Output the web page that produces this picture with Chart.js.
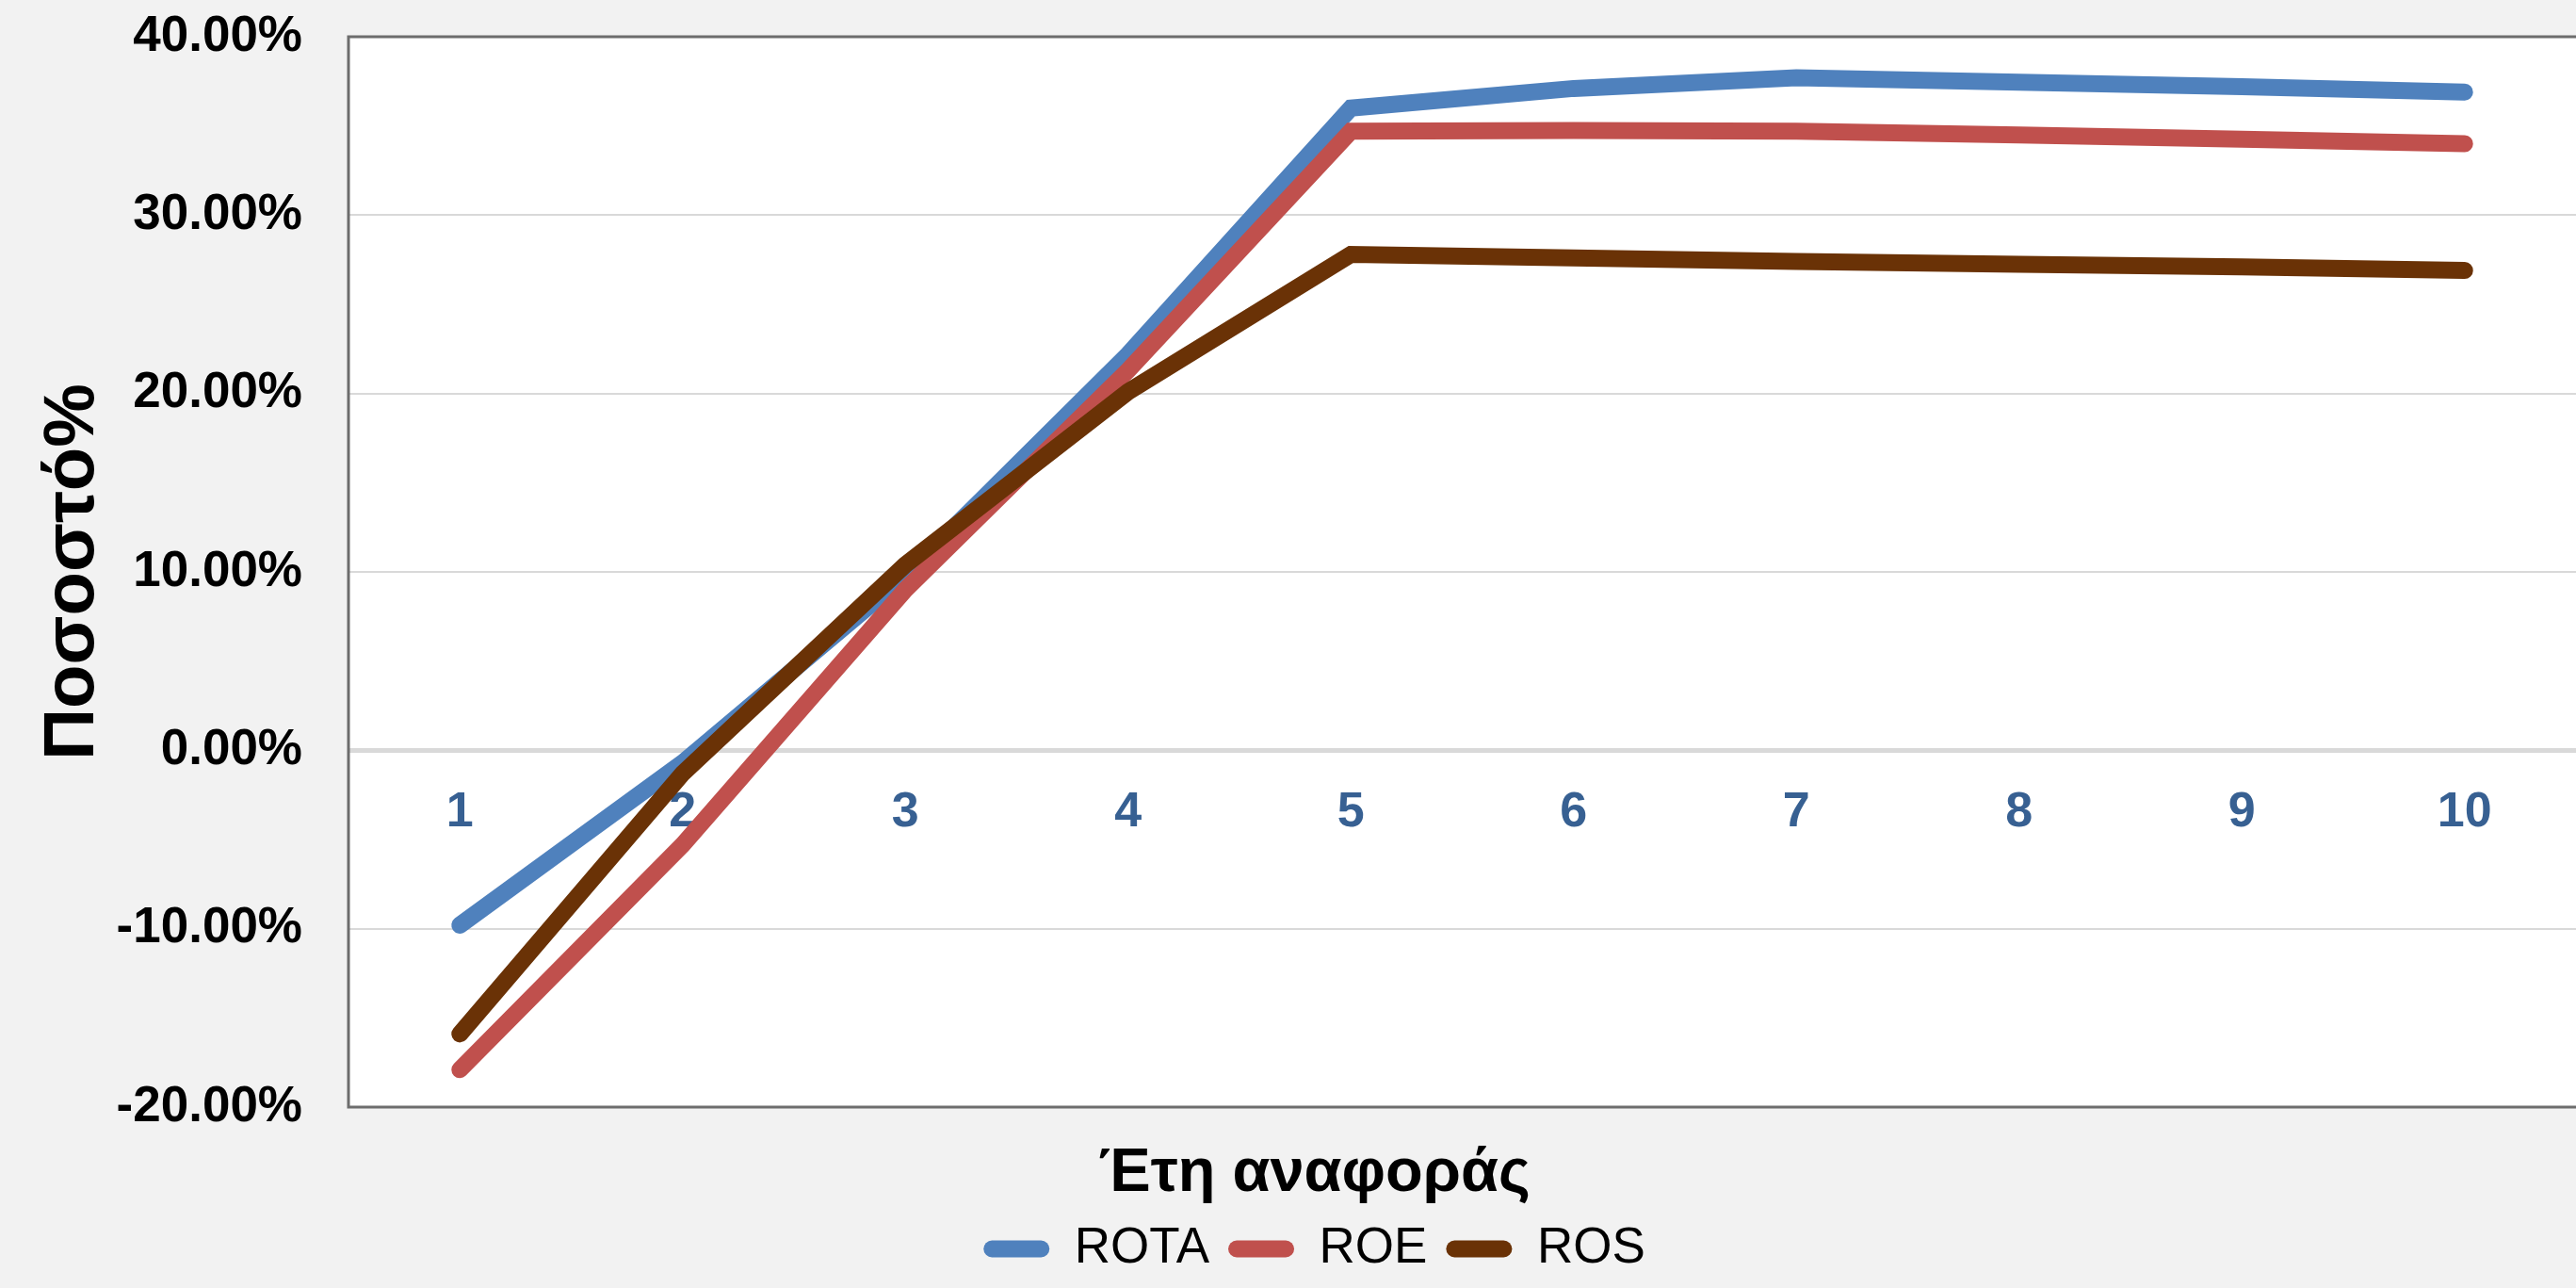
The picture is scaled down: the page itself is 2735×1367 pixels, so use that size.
<!DOCTYPE html>
<html>
<head>
<meta charset="utf-8">
<script src="https://cdn.jsdelivr.net/npm/chart.js@4"></script>
<style>
  html, body { margin: 0; padding: 0; background: #F2F2F2; }
  canvas { display: block; }
</style>
</head>
<body>
<canvas id="ratioChart" width="2735" height="1367"></canvas>
<script>
// έτη αναφοράς (κατηγορίες)
const years = ['1', '2', '3', '4', '5', '6', '7', '8', '9', '10'];

// τιμές σε ποσοστό %
const rota = [-9.8, -0.7, 9.8, 22.2, 36.0, 37.1, 37.7, 37.45, 37.2, 36.9];
const roe = [-17.9, -5.3, 9.0, 21.3, 34.7, 34.75, 34.7, 34.5, 34.25, 34.0];
const ros = [-15.9, -1.3, 10.4, 20.1, 27.8, 27.6, 27.4, 27.25, 27.1, 26.9];

// άξονας y
const yMin = -20;
const yMax = 40;
const yStep = 10;

Chart.defaults.font.family = "'Liberation Sans', Arial, sans-serif";

// φόντο καμβά και λευκή περιοχή γραφήματος, με πλαίσιο
const plotFrame = {
    id: 'plotFrame',
    beforeDraw(chart) {
        const {ctx, chartArea: a} = chart;
        ctx.save();
        ctx.fillStyle = '#F2F2F2';
        ctx.fillRect(0, 0, chart.width, chart.height);
        ctx.fillStyle = '#FFFFFF';
        ctx.fillRect(a.left, a.top, a.right - a.left, a.bottom - a.top);
        ctx.restore();
    },
    beforeDatasetsDraw(chart) {
        const {ctx, chartArea: a} = chart;
        ctx.save();
        ctx.strokeStyle = '#6D6D6D';
        ctx.lineWidth = 3;
        ctx.beginPath();
        ctx.moveTo(a.right, a.top);
        ctx.lineTo(a.left, a.top);
        ctx.lineTo(a.left, a.bottom);
        ctx.lineTo(a.right, a.bottom);
        ctx.stroke();
        ctx.restore();
    }
};

function lineSet(label, data, color, order) {
    return {
        label: label,
        data: data,
        borderColor: color,
        backgroundColor: color,
        borderWidth: 18,
        borderCapStyle: 'round',
        borderJoinStyle: 'miter',
        pointRadius: 0,
        tension: 0,
        order: order
    };
}

const ctx = document.getElementById('ratioChart').getContext('2d');
new Chart(ctx, {
    type: 'line',
    data: {
        labels: years,
        datasets: [
            lineSet('ROTA', rota, '#4F81BD', 3),
            lineSet('ROE', roe, '#C0504D', 2),
            lineSet('ROS', ros, '#6A3206', 1)
        ]
    },
    options: {
        responsive: false,
        animation: false,
        layout: {
            padding: {top: 0, right: 0, bottom: 5, left: 56}
        },
        scales: {
            x: {
                type: 'category',
                offset: true,
                position: {y: 0},
                grid: {display: false, drawTicks: false},
                border: {display: false},
                ticks: {
                    color: '#376092',
                    padding: 35,
                    maxRotation: 0,
                    font: {size: 52, weight: 'bold'}
                }
            },
            y: {
                min: yMin,
                max: yMax,
                afterFit(axis) {
                    axis.width = 314;
                    axis.paddingTop = 39;
                    axis.paddingBottom = 0;
                },
                grid: {
                    color: '#D9D9D9',
                    lineWidth: c => (c.tick && c.tick.value === 0 ? 5 : 2),
                    drawTicks: false
                },
                border: {display: false},
                ticks: {
                    stepSize: yStep,
                    color: '#000000',
                    padding: 49,
                    font: {size: 53, weight: 'bold'},
                    callback: v => v.toFixed(2) + '%'
                },
                title: {
                    display: true,
                    text: 'Ποσοστό%',
                    color: '#000000',
                    padding: {top: 0, bottom: 0},
                    font: {size: 76, weight: 'bold', lineHeight: 0.58}
                }
            }
        },
        plugins: {
            tooltip: {enabled: false},
            title: {
                display: true,
                position: 'bottom',
                weight: 500,
                text: 'Έτη αναφοράς',
                color: '#000000',
                padding: {top: 39, bottom: 0},
                font: {size: 65, weight: 'bold', lineHeight: 1.0}
            },
            legend: {
                position: 'bottom',
                labels: {
                    color: '#000000',
                    boxWidth: 70,
                    boxHeight: 18,
                    padding: 20,
                    useBorderRadius: true,
                    borderRadius: 9,
                    font: {size: 53},
                    sort: (a, b) => a.datasetIndex - b.datasetIndex,
                    generateLabels(chart) {
                        const items = Chart.defaults.plugins.legend.labels.generateLabels(chart);
                        items.forEach(item => {
                            item.lineWidth = 0;
                        });
                        return items;
                    }
                }
            }
        }
    },
    plugins: [plotFrame]
});
</script>
</body>
</html>
